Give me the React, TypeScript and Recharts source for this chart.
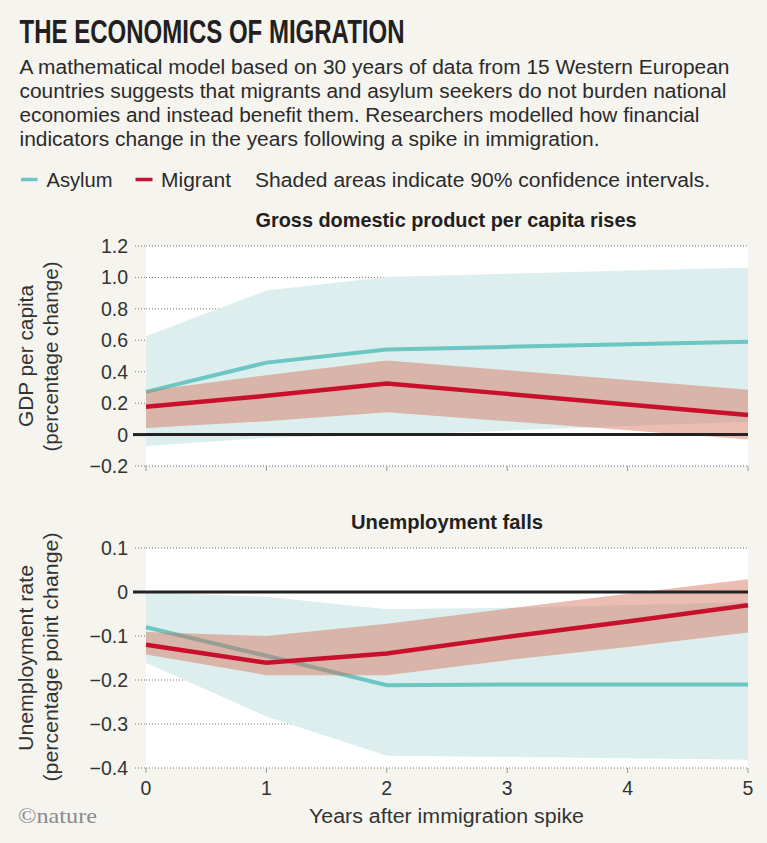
import React from 'react';
import { ComposedChart, Area, Line, XAxis, YAxis, CartesianGrid, ReferenceLine } from 'recharts';

// ---------- data ----------
const years = [0, 1, 2, 3, 4, 5];

// GDP per capita (percentage change)
const gdpAsylum = [0.272, 0.458, 0.542, 0.558, 0.574, 0.59];
const gdpAsylumLow = [-0.073, -0.02, -0.003, 0.025, 0.055, 0.082];
const gdpAsylumHigh = [0.626, 0.917, 1.002, 1.024, 1.044, 1.061];
const gdpMigrant = [0.177, 0.247, 0.325, 0.259, 0.192, 0.125];
const gdpMigrantLow = [0.042, 0.085, 0.142, 0.085, 0.028, -0.032];
const gdpMigrantHigh = [0.278, 0.378, 0.472, 0.41, 0.348, 0.285];

// Unemployment rate (percentage point change)
const unAsylum = [-0.08, -0.145, -0.212, -0.21, -0.21, -0.21];
const unAsylumLow = [-0.161, -0.283, -0.372, -0.375, -0.378, -0.381];
const unAsylumHigh = [0.0, -0.011, -0.039, -0.036, -0.03, -0.023];
const unMigrant = [-0.12, -0.161, -0.14, -0.102, -0.067, -0.03];
const unMigrantLow = [-0.142, -0.189, -0.189, -0.155, -0.125, -0.092];
const unMigrantHigh = [-0.091, -0.1, -0.072, -0.038, -0.004, 0.029];

const gdpTicks = [-0.2, 0, 0.2, 0.4, 0.6, 0.8, 1.0, 1.2];
const unTicks = [-0.4, -0.3, -0.2, -0.1, 0, 0.1];

const titleText = 'THE ECONOMICS OF MIGRATION';
const bodyLines = [
  'A mathematical model based on 30 years of data from 15 Western European',
  'countries suggests that migrants and asylum seekers do not burden national',
  'economies and instead benefit them. Researchers modelled how financial',
  'indicators change in the years following a spike in immigration.',
];

const gdpData = years.map((y, i) => ({
  year: y,
  asylum: gdpAsylum[i],
  asylumCI: [gdpAsylumLow[i], gdpAsylumHigh[i]],
  migrant: gdpMigrant[i],
  migrantCI: [gdpMigrantLow[i], gdpMigrantHigh[i]],
}));
const unData = years.map((y, i) => ({
  year: y,
  asylum: unAsylum[i],
  asylumCI: [unAsylumLow[i], unAsylumHigh[i]],
  migrant: unMigrant[i],
  migrantCI: [unMigrantLow[i], unMigrantHigh[i]],
}));

// ---------- styles ----------
const BG = '#f5f4ee';
const TEAL = '#6cc6c3';
const TEAL_FILL = '#dceeed';
const RED = '#c8102e';
const RED_FILL = '#d36d57';
const TEXT = '#2b2b2b';
const SANS = '"Liberation Sans", Arial, sans-serif';
const NARROW = '"Liberation Sans Narrow", "Liberation Sans", Arial, sans-serif';
const TICK_SIZE = 11;
const TICK_MARGIN = 7;

const fmt = (v: number) => {
  if (Math.abs(v) < 1e-9) return '0';
  return (v < 0 ? '\u2212' : '') + Math.abs(v).toFixed(1);
};

const YTick = (props: any) => {
  const { x, y, payload } = props;
  const v = payload.value;
  const zero = Math.abs(v) < 1e-9;
  return (
    <g>
      <line
        x1={x + TICK_MARGIN - (zero ? 2 : 0)}
        x2={x + TICK_MARGIN + TICK_SIZE}
        y1={y}
        y2={y}
        stroke={zero ? '#222' : '#777'}
        strokeWidth={zero ? 3 : 1}
        strokeDasharray={zero ? undefined : '1 2'}
      />
      <text x={x} y={y} dy="0.36em" textAnchor="end" fontSize={19.5} fill="#333" fontFamily={SANS}>
        {fmt(v)}
      </text>
    </g>
  );
};

const XTick = (props: any) => {
  const { x, y, payload } = props;
  return (
    <text x={x} y={y} dy="0.71em" textAnchor="middle" fontSize={19.5} fill="#333" fontFamily={SANS}>
      {payload.value}
    </text>
  );
};

const EmptyTick = () => <g />;

const Panel = ({ data, domain, ticks, showX, height }: any) => (
  <ComposedChart
    width={767}
    height={height}
    data={data}
    margin={{ top: 16, right: 19, bottom: 0, left: 0 }}
  >
    <CartesianGrid vertical={false} stroke="#777" strokeDasharray="1 2" fill="#ffffff" fillOpacity={1} />
    <XAxis
      type="number"
      dataKey="year"
      domain={[0, 5]}
      ticks={years}
      interval={0}
      axisLine={false}
      tickLine={{ stroke: '#999', strokeWidth: 1 }}
      tickSize={5}
      tickMargin={8}
      height={showX ? 40 : 14}
      tick={showX ? <XTick /> : <EmptyTick />}
    />
    <YAxis
      type="number"
      domain={domain}
      ticks={ticks}
      interval={0}
      width={146}
      axisLine={false}
      tickLine={false}
      tickSize={TICK_SIZE}
      tickMargin={TICK_MARGIN}
      tick={<YTick />}
      allowDataOverflow
    />
    <Area
      type="linear"
      dataKey="asylumCI"
      stroke="none"
      fill={TEAL_FILL}
      fillOpacity={1}
      isAnimationActive={false}
      activeDot={false}
      zIndex={100}
    />
    <Line
      type="linear"
      dataKey="asylum"
      stroke={TEAL}
      strokeWidth={4}
      dot={false}
      activeDot={false}
      isAnimationActive={false}
      zIndex={150}
    />
    <Area
      type="linear"
      dataKey="migrantCI"
      stroke="none"
      fill={RED_FILL}
      fillOpacity={0.45}
      isAnimationActive={false}
      activeDot={false}
      zIndex={200}
    />
    <Line
      type="linear"
      dataKey="migrant"
      stroke={RED}
      strokeWidth={4.5}
      dot={false}
      activeDot={false}
      isAnimationActive={false}
      zIndex={300}
    />
    <ReferenceLine y={0} stroke="#222" strokeWidth={3} zIndex={450} />
  </ComposedChart>
);

export default function App() {
  return (
    <div
      style={{
        position: 'absolute',
        left: 0,
        top: 0,
        width: 767,
        height: 843,
        background: BG,
        overflow: 'hidden',
      }}
    >
      <div style={{ position: 'absolute', left: 0, top: 230 }}>
        <Panel data={gdpData} domain={[-0.2, 1.2]} ticks={gdpTicks} showX={false} height={250} />
      </div>
      <div style={{ position: 'absolute', left: 0, top: 532 }}>
        <Panel data={unData} domain={[-0.4, 0.1]} ticks={unTicks} showX={true} height={276} />
      </div>
      <svg
        width={767}
        height={843}
        style={{ position: 'absolute', left: 0, top: 0, pointerEvents: 'none' }}
      >
        <text
          x={19.5}
          y={43.3}
          fontFamily={NARROW}
          fontWeight="bold"
          fontSize={33}
          fill="#231f20"
          textLength={385}
          lengthAdjust="spacingAndGlyphs"
        >
          {titleText}
        </text>
        {bodyLines.map((l, i) => (
          <text
            key={i}
            x={19.5}
            y={73.5 + i * 24}
            fontFamily={SANS}
            fontSize={19.5}
            fill={TEXT}
            textLength={[710, 707, 680, 580][i]}
            lengthAdjust="spacingAndGlyphs"
          >
            {l}
          </text>
        ))}
        {/* legend */}
        <line x1={21} x2={37.5} y1={179.5} y2={179.5} stroke={TEAL} strokeWidth={3.5} />
        <text x={46.5} y={186.7} fontFamily={SANS} fontSize={19.5} fill={TEXT} textLength={66} lengthAdjust="spacingAndGlyphs">
          Asylum
        </text>
        <line x1={135.5} x2={152.5} y1={179.5} y2={179.5} stroke={RED} strokeWidth={3.5} />
        <text x={161} y={186.7} fontFamily={SANS} fontSize={19.5} fill={TEXT} textLength={70} lengthAdjust="spacingAndGlyphs">
          Migrant
        </text>
        <text x={255} y={186.7} fontFamily={SANS} fontSize={19.5} fill={TEXT} textLength={455} lengthAdjust="spacingAndGlyphs">
          Shaded areas indicate 90% confidence intervals.
        </text>
        {/* panel titles */}
        <text x={255.5} y={227.3} fontFamily={NARROW} fontWeight="bold" fontSize={20.5} fill="#231f20" textLength={381} lengthAdjust="spacingAndGlyphs">
          Gross domestic product per capita rises
        </text>
        <text x={351} y={529} fontFamily={NARROW} fontWeight="bold" fontSize={20.5} fill="#231f20" textLength={192} lengthAdjust="spacingAndGlyphs">
          Unemployment falls
        </text>
        {/* y-axis labels */}
        <text transform="translate(33,356) rotate(-90)" textAnchor="middle" fontFamily={SANS} fontSize={19.5} fill="#333" textLength={142} lengthAdjust="spacingAndGlyphs">
          GDP per capita
        </text>
        <text transform="translate(58,356.5) rotate(-90)" textAnchor="middle" fontFamily={SANS} fontSize={19.5} fill="#333" textLength={190} lengthAdjust="spacingAndGlyphs">
          (percentage change)
        </text>
        <text transform="translate(33,658) rotate(-90)" textAnchor="middle" fontFamily={SANS} fontSize={19.5} fill="#333" textLength={186} lengthAdjust="spacingAndGlyphs">
          Unemployment rate
        </text>
        <text transform="translate(58,657) rotate(-90)" textAnchor="middle" fontFamily={SANS} fontSize={19.5} fill="#333" textLength={249} lengthAdjust="spacingAndGlyphs">
          (percentage point change)
        </text>
        {/* x-axis label */}
        <text x={309} y={823} fontFamily={SANS} fontSize={19.5} fill="#333" textLength={275} lengthAdjust="spacingAndGlyphs">
          Years after immigration spike
        </text>
        {/* credit */}
        <text x={18} y={823} fontFamily='"Liberation Serif", "DejaVu Serif", serif' fontSize={22} fill="#8a8a8a" textLength={79} lengthAdjust="spacingAndGlyphs">
          ©nature
        </text>
      </svg>
    </div>
  );
}
